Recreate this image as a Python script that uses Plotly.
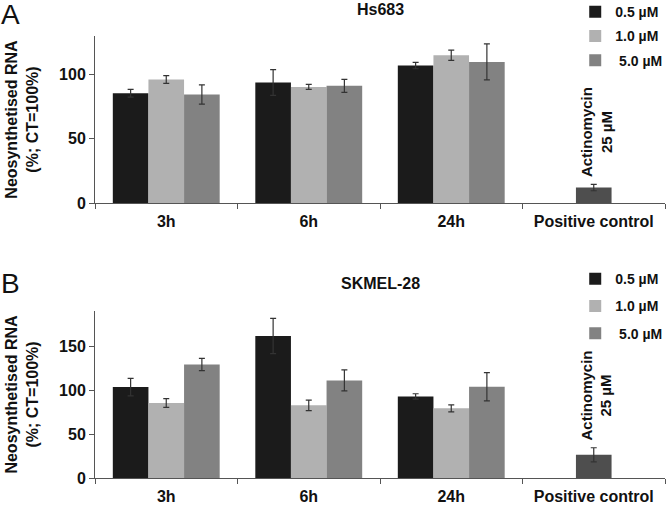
import plotly.graph_objects as go

categories = ["3h", "6h", "24h"]
all_categories = ["3h", "6h", "24h", "Positive control"]
series_names = ["0.5 µM", "1.0 µM", " 5.0 µM"]

# Panel A: Hs683
hs683_values = [[85.5, 93.8, 107.0], [96.1, 90.4, 115.0], [84.5, 91.2, 109.8]]
hs683_errors = [[3.0, 10.0, 2.5], [3.0, 2.0, 4.0], [7.5, 5.0, 14.0]]
hs683_pos = [12.1]
hs683_pos_err = [2.5]

# Panel B: SKMEL-28
skmel_values = [[103.4, 161.5, 92.8], [85.3, 82.6, 79.2], [129.0, 111.0, 103.8]]
skmel_errors = [[10.0, 20.0, 3.0], [5.0, 6.0, 4.0], [7.0, 12.0, 16.0]]
skmel_pos = [26.4]
skmel_pos_err = [8.0]

pos_label = ["Positive control"]
colors = ["#1b1b1b", "#b1b1b1", "#828282"]
pos_color = "#4e4e4e"
err_color = "#333333"
FONT = "Liberation Sans, Arial, sans-serif"

fig = go.Figure()

panels = [
    ("x", "y", hs683_values, hs683_errors, hs683_pos, hs683_pos_err, "legend"),
    ("x2", "y2", skmel_values, skmel_errors, skmel_pos, skmel_pos_err, "legend2"),
]
for xa, ya, vals, errs, pos, pos_err, leg in panels:
    for i, name in enumerate(series_names):
        fig.add_trace(go.Bar(
            x=categories, y=vals[i], name=name, xaxis=xa, yaxis=ya,
            marker=dict(color=colors[i], line=dict(width=0)),
            error_y=dict(type="data", array=errs[i], color=err_color, thickness=1.2, width=3),
            offsetgroup=str(i), legend=leg, legendgroup=leg + str(i),
        ))
    fig.add_trace(go.Bar(
        x=pos_label, y=pos, name="Actinomycin", xaxis=xa, yaxis=ya,
        marker=dict(color=pos_color, line=dict(width=0)),
        error_y=dict(type="data", array=pos_err, color=err_color, thickness=1.2, width=3),
        offsetgroup="1", showlegend=False, legend=leg,
    ))
    fig.add_annotation(
        x="Positive control", y=pos[0] + pos_err[0], xref=xa, yref=ya,
        text="Actinomycin<br>25 µM", textangle=-90, showarrow=False,
        yanchor="bottom", xanchor="center", xshift=3, yshift=5,
        font=dict(family=FONT, size=15, color="#111111", weight="bold"),
    )

tickfont = dict(family=FONT, size=16, color="#111111", weight="bold")
axis_common = dict(
    showline=True, linecolor="#555555", linewidth=1, showgrid=False, zeroline=False,
    tickfont=tickfont, automargin=False, ticks="outside", ticklen=5, tickcolor="#555555",
)
xaxis_common = dict(axis_common, type="category", categoryorder="array",
                    categoryarray=all_categories, tickson="boundaries", ticklabelstandoff=4)
ytitle = dict(text="Neosynthetised RNA<br>(%; CT=100%)", standoff=16,
              font=dict(family=FONT, size=16, color="#111111", weight="bold"))

fig.update_layout(
    width=670, height=510,
    margin=dict(l=95, r=5, t=36, b=32, autoexpand=False),
    paper_bgcolor="white", plot_bgcolor="white",
    barmode="group", bargap=0.25, bargroupgap=0,
    font=dict(family=FONT, color="#111111"),
    xaxis=dict(xaxis_common, anchor="y", domain=[0, 1]),
    xaxis2=dict(xaxis_common, anchor="y2", domain=[0, 1]),
    yaxis=dict(axis_common, anchor="x", domain=[0.622, 1.0], range=[0, 130], dtick=50, title=ytitle),
    yaxis2=dict(axis_common, anchor="x2", domain=[0.0, 0.378], range=[0, 190], dtick=50, title=ytitle),
    legend=dict(x=0.8425, xanchor="left", y=1.09, yanchor="top", tracegroupgap=3,
                font=dict(family=FONT, size=14, weight="bold"), bgcolor="rgba(0,0,0,0)"),
    legend2=dict(x=0.8425, xanchor="left", y=0.486, yanchor="top", tracegroupgap=6,
                 font=dict(family=FONT, size=14, weight="bold"), bgcolor="rgba(0,0,0,0)"),
)

fig.add_annotation(text="Hs683", x=0.5, y=1.06, xref="paper", yref="paper", showarrow=False,
                   xanchor="center", yanchor="middle",
                   font=dict(family=FONT, size=16, weight="bold", color="#111111"))
fig.add_annotation(text="SKMEL-28", x=0.5, y=0.441, xref="paper", yref="paper", showarrow=False,
                   xanchor="center", yanchor="middle",
                   font=dict(family=FONT, size=16, weight="bold", color="#111111"))
fig.add_annotation(text="A", x=-0.168, y=1.048, xref="paper", yref="paper", showarrow=False,
                   xanchor="left", yanchor="middle",
                   font=dict(family=FONT, size=28, color="#111111"))
fig.add_annotation(text="B", x=-0.168, y=0.44, xref="paper", yref="paper", showarrow=False,
                   xanchor="left", yanchor="middle",
                   font=dict(family=FONT, size=28, color="#111111"))

fig.write_html("out.html", config={"displayModeBar": False},
               post_script="document.body.style.margin='0';")
